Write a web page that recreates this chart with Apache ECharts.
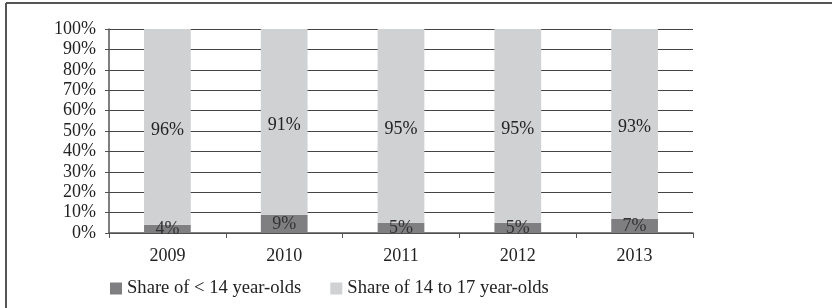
<!doctype html>
<html lang="en">
<head>
  <meta charset="UTF-8">
  <title>Share by age group</title>
  <script src="https://cdn.jsdelivr.net/npm/echarts@6/dist/echarts.min.js"></script>
  <style>
    html, body { margin: 0; padding: 0; background: #fff; }
    #chart { width: 832px; height: 308px; }
  </style>
</head>
<body>
<div id="chart"></div>
<script>
  var years = ['2009', '2010', '2011', '2012', '2013'];
  var under14 = [4, 9, 5, 5, 7];
  var from14to17 = [96, 91, 95, 95, 93];
  var seriesNames = ['Share of < 14 year-olds', 'Share of 14 to 17 year-olds'];

  var font = 'Liberation Serif, Times New Roman, serif';
  var chart = echarts.init(document.getElementById('chart'));

  var option = {
    animation: false,
    textStyle: { fontFamily: font },
    grid: { left: 109, right: 139, top: 29, bottom: 75 },
    legend: {
      left: 105,
      top: 274,
      itemWidth: 12,
      itemHeight: 12,
      itemGap: 29,
      icon: 'rect',
      textStyle: { fontFamily: font, fontSize: 18.6, color: '#222' },
      data: seriesNames
    },
    xAxis: {
      type: 'category',
      data: years,
      axisLine: { lineStyle: { color: '#555', width: 1.5 } },
      axisTick: { show: true, length: 5, lineStyle: { color: '#555' } },
      axisLabel: { fontFamily: font, fontSize: 18, color: '#222', margin: 14 }
    },
    yAxis: {
      type: 'value',
      min: 0,
      max: 100,
      interval: 10,
      axisLine: { show: true, lineStyle: { color: '#555', width: 1.5 } },
      axisTick: { show: true, length: 4, lineStyle: { color: '#555' } },
      axisLabel: { formatter: '{value}%', fontFamily: font, fontSize: 18, color: '#222', margin: 13 },
      splitLine: { lineStyle: { color: '#444', width: 1.2 } }
    },
    series: [
      {
        name: seriesNames[0],
        type: 'bar',
        stack: 'total',
        barWidth: '40%',
        data: under14,
        itemStyle: { color: '#7f7f81' },
        label: {
          show: true, position: 'inside', formatter: '{c}%',
          fontFamily: font, fontSize: 18, color: '#333'
        }
      },
      {
        name: seriesNames[1],
        type: 'bar',
        stack: 'total',
        barWidth: '40%',
        data: from14to17,
        itemStyle: { color: '#d0d1d3' },
        label: {
          show: true, position: 'inside', formatter: '{c}%', offset: [0, 3],
          fontFamily: font, fontSize: 18, color: '#222'
        }
      }
    ],
    graphic: [
      { type: 'line', shape: { x1: 6, y1: 3, x2: 832, y2: 3 }, style: { stroke: '#555', lineWidth: 2 } },
      { type: 'line', shape: { x1: 6, y1: 3, x2: 6, y2: 308 }, style: { stroke: '#555', lineWidth: 2 } }
    ]
  };

  chart.setOption(option);
</script>
</body>
</html>
